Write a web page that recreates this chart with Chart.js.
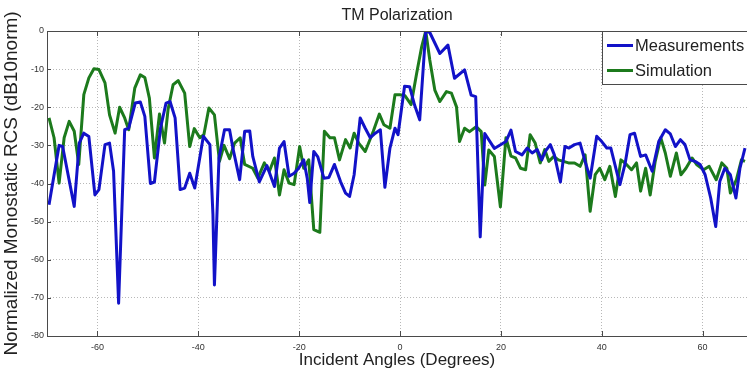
<!DOCTYPE html>
<html>
<head>
<meta charset="utf-8">
<script src="https://cdn.jsdelivr.net/npm/chart.js@4.4.1/dist/chart.umd.min.js"></script>
<style>
  html, body { margin: 0; padding: 0; background: #fff; }
  #wrap { width: 747px; height: 373px; position: relative; }
</style>
</head>
<body>
<div id="wrap"><canvas id="rcsChart"></canvas></div>
<script>
const FONT = "'Liberation Sans', Arial, sans-serif"

const xTicks = [-60, -40, -20, 0, 20, 40, 60]

const measAngles = [
  -69.6, -67.6, -66.9, -64.6, -63.6, -62.7, -61.7, -60.5, -59.7, -58.5, -57.6, -56.8, -55.8, -54.6, -53.8,
  -52.5, -51.5, -50.6, -49.5, -48.7, -47.5, -46.4, -45.6, -44.6, -43.6, -42.7, -41.7, -40.7, -39.0, -37.7,
  -37.1, -36.8, -35.9, -34.8, -33.8, -33.1, -31.8, -30.8, -29.8, -29.2, -27.9, -26.4, -24.9, -23.9, -23.0,
  -22.0, -21.0, -20.1, -19.1, -18.4, -17.9, -17.1, -16.3, -15.1, -14.1, -13.0, -11.8, -10.8, -10.0, -9.1,
  -7.9, -6.9, -5.9, -4.9, -3.9, -3.0, -2.0, -1.0, -0.4, 0.9, 1.9, 2.9, 3.9, 5.1, 5.9,
  7.9, 9.5, 10.8, 12.8, 14.1, 15.0, 15.9, 16.8, 18.7, 21.0, 22.0, 22.9, 24.2, 25.2, 26.2,
  27.2, 28.1, 28.8, 29.8, 30.6, 31.8, 32.7, 33.5, 34.6, 35.7, 36.7, 37.7, 39.0, 40.0, 41.0,
  41.8, 42.6, 43.6, 44.6, 45.6, 46.5, 47.7, 48.7, 50.0, 51.3, 52.6, 53.6, 54.6, 55.6, 56.5,
  57.5, 58.5, 59.5, 60.5, 61.6, 62.6, 63.4, 64.4, 65.5, 66.6, 67.4, 68.4
]
const measValues = [
  -45.6, -30, -30.3, -46, -29.4, -26.8, -27.7, -43, -41.6, -29.8, -29.4, -36.8, -71.4, -25.9, -25.5,
  -18.9, -18.6, -22.4, -40, -39.6, -25.5, -18.9, -18.5, -22.8, -41.6, -41.2, -37.3, -41.2, -27.6, -29.8,
  -48, -66.6, -33.3, -25.9, -25.9, -31, -39, -26.3, -26.2, -32.9, -39.6, -35.3, -40.8, -30.7, -29,
  -38.1, -37.3, -36, -33.8, -38.6, -45, -31.6, -33, -38.6, -38.4, -35, -39.5, -42.5, -43.4, -37.7,
  -22.8, -25.5, -28, -26.8, -25.9, -41, -30.7, -25.5, -27.2, -14.5, -14.6, -19.5, -23.3, 0, -0.4,
  -5.9, -3.7, -12.4, -10.2, -16.8, -17.2, -54, -26.9, -30.8, -29, -26, -31.6, -32.5, -30.7, -32,
  -31.1, -33.8, -31.6, -29.8, -32.5, -39.6, -30.3, -30.7, -29.8, -29.4, -34.2, -38.6, -27.6, -29, -30.7,
  -30.7, -35, -40.3, -35, -27.2, -26.8, -32.9, -32.5, -36.8, -29, -25.9, -27, -30.3, -28.5, -29.8,
  -33.8, -34.2, -35, -37.7, -43.8, -51.3, -39.5, -36, -37.7, -43.8, -36, -30.7
]

const simAngles = [
  -69.6, -68.6, -67.6, -66.6, -65.6, -64.6, -63.7, -62.7, -61.7, -60.7, -59.7, -58.5, -57.6, -56.5, -55.6,
  -54.6, -53.8, -52.6, -51.5, -50.6, -49.7, -48.7, -47.7, -46.7, -46.0, -45.0, -44.0, -42.7, -41.7, -40.8,
  -39.7, -38.9, -37.9, -36.8, -35.8, -34.9, -33.8, -32.8, -31.7, -30.8, -29.2, -28.2, -26.9, -25.9, -24.9,
  -23.9, -23.0, -22.0, -21.0, -19.9, -19.1, -18.1, -17.1, -15.9, -15.0, -13.9, -13.0, -12.0, -10.8, -9.9,
  -9.1, -8.2, -6.9, -5.3, -4.1, -3.2, -2.0, -1.0, 0.0, 1.0, 2.2, 3.3, 4.3, 5.1, 5.9,
  6.9, 7.9, 9.2, 10.2, 11.2, 11.8, 12.8, 13.8, 15.1, 16.1, 16.8, 17.6, 18.7, 19.9, 21.0,
  22.0, 22.9, 23.9, 24.9, 25.8, 26.8, 27.8, 28.7, 29.5, 30.5, 31.4, 32.4, 33.4, 34.6, 35.7,
  36.7, 37.7, 38.7, 39.6, 40.6, 41.6, 42.7, 43.8, 44.9, 45.9, 46.9, 47.7, 48.7, 49.6, 50.6,
  51.7, 52.6, 53.6, 54.8, 55.7, 56.7, 57.9, 58.8, 60.2, 61.3, 62.7, 63.8, 64.8, 65.5, 66.7,
  67.7, 68.4
]
const simValues = [
  -22.8, -28, -39.9, -28, -23.7, -26.3, -35, -16.7, -12.3, -9.9, -10.1, -13.6, -22, -26.8, -20,
  -22.8, -25.9, -15, -11.5, -12.2, -17.6, -33.3, -21.8, -29.4, -20.6, -14.1, -13, -16.3, -30.3, -25.6,
  -28, -27.2, -20.2, -22, -34.2, -30, -33.5, -29.4, -28, -35, -36, -38.6, -34.6, -36.8, -33.3,
  -43, -36.4, -39.9, -40.3, -30.3, -36, -33.8, -52.1, -52.8, -26.3, -28, -28, -33.8, -28.5, -30.7,
  -26.8, -29.4, -31.6, -26.3, -21.8, -24.6, -25.5, -16.7, -16.7, -17, -19.3, -11.1, -4.1, 0, -7.6,
  -15.5, -18.5, -15.9, -16.3, -19.9, -29, -25.5, -26.4, -25.1, -26.4, -40.4, -31.2, -32.9, -46.1, -28,
  -32.8, -33.3, -36, -36.4, -27.2, -29.4, -34.6, -31.1, -34.2, -32.9, -33.8, -34.2, -34.6, -34.6, -35.5,
  -32.5, -47.3, -37.7, -36, -39, -35.5, -43.4, -33.8, -35, -36.4, -34.6, -42, -36, -43, -34.2,
  -28, -32, -38.1, -32, -37.7, -36, -33.3, -35, -36.4, -35.5, -39, -34.6, -36, -42.5, -39,
  -33.8, -34.2
]

const MEAS_COLOR = '#1212c8'
const SIM_COLOR  = '#1c7a1c'

const toPoints = (xs, ys) => xs.map((x, i) => ({ x, y: ys[i] }))

// box, inward ticks, title and legend, drawn the way the matlab figure has them
const framePlugin = {
  id: 'frame',
  afterDraw(chart) {
    const { ctx, chartArea: a, scales: { x, y } } = chart
    ctx.save()
    ctx.strokeStyle = '#4a4a4a'
    ctx.lineWidth = 1
    ctx.strokeRect(a.left + 0.5, a.top + 0.5, a.right - a.left, a.bottom - a.top)

    ctx.beginPath()
    xTicks.forEach(v => {
      const px = Math.round(x.getPixelForValue(v)) + 0.5
      ctx.moveTo(px, a.bottom); ctx.lineTo(px, a.bottom - 5)
      ctx.moveTo(px, a.top);    ctx.lineTo(px, a.top + 5)
    })
    for (let v = -70; v <= -10; v += 10) {
      const py = Math.round(y.getPixelForValue(v)) + 0.5
      ctx.moveTo(a.left, py); ctx.lineTo(a.left + 4, py)
    }
    ctx.stroke()

    ctx.fillStyle = '#222'
    ctx.font = `16px ${FONT}`
    ctx.textAlign = 'center'
    ctx.textBaseline = 'middle'
    ctx.fillText('TM Polarization', (a.left + a.right) / 2, 16)

    // legend
    const lx = 602, ly = a.top + 0.5
    ctx.fillStyle = '#fff'
    ctx.fillRect(lx, ly, 160, 53)
    ctx.strokeStyle = '#4a4a4a'
    ctx.strokeRect(lx + 0.5, ly, 160, 53)
    ctx.textAlign = 'left'
    ctx.font = `16.5px ${FONT}`
    chart.data.datasets.forEach((ds, i) => {
      const yy = ly + 14 + i * 25
      ctx.strokeStyle = ds.borderColor
      ctx.lineWidth = 3
      ctx.beginPath(); ctx.moveTo(607, yy); ctx.lineTo(633, yy); ctx.stroke()
      ctx.fillStyle = '#222'
      ctx.fillText(ds.label, 635, yy + 1)
    })
    ctx.restore()
  }
}

new Chart(document.getElementById('rcsChart'), {
  type: 'line',
  data: {
    datasets: [
      { label: 'Measurements', data: toPoints(measAngles, measValues), borderColor: MEAS_COLOR, borderWidth: 3 },
      { label: 'Simulation',   data: toPoints(simAngles, simValues),   borderColor: SIM_COLOR,  borderWidth: 3 }
    ]
  },
  options: {
    responsive: true,
    maintainAspectRatio: false,
    animation: false,
    layout: { padding: { top: 31, right: 0, left: 0, bottom: 0 } },
    elements: { point: { radius: 0 }, line: { tension: 0, borderJoinStyle: 'round' } },
    plugins: { legend: { display: false }, tooltip: { enabled: false } },
    scales: {
      x: {
        type: 'linear',
        min: -70,
        max: 68.8,
        afterBuildTicks: (s) => { s.ticks = xTicks.map(v => ({ value: v })) },
        afterFit: (s) => { s.height = 37 },
        ticks: { color: '#333', font: { family: FONT, size: 9 }, padding: 6, maxRotation: 0 },
        grid: { color: '#b8b8b8', drawTicks: false },
        border: { display: false, dash: [1, 2] },
        title: { display: true, text: 'Incident Angles (Degrees)', color: '#222', font: { family: FONT, size: 17 }, padding: { top: 0, bottom: 2 } }
      },
      y: {
        min: -80,
        max: 0,
        ticks: { stepSize: 10, color: '#333', font: { family: FONT, size: 9 }, padding: 3 },
        afterFit: (s) => { s.width = 47 },
        grid: { color: '#b8b8b8', drawTicks: false },
        border: { display: false, dash: [1, 2] },
        title: { display: true, text: 'Normalized Monostatic RCS (dB10norm)', color: '#222', font: { family: FONT, size: 19 }, padding: { top: 0, bottom: 0 } }
      }
    }
  },
  plugins: [framePlugin]
})
</script>
</body>
</html>
